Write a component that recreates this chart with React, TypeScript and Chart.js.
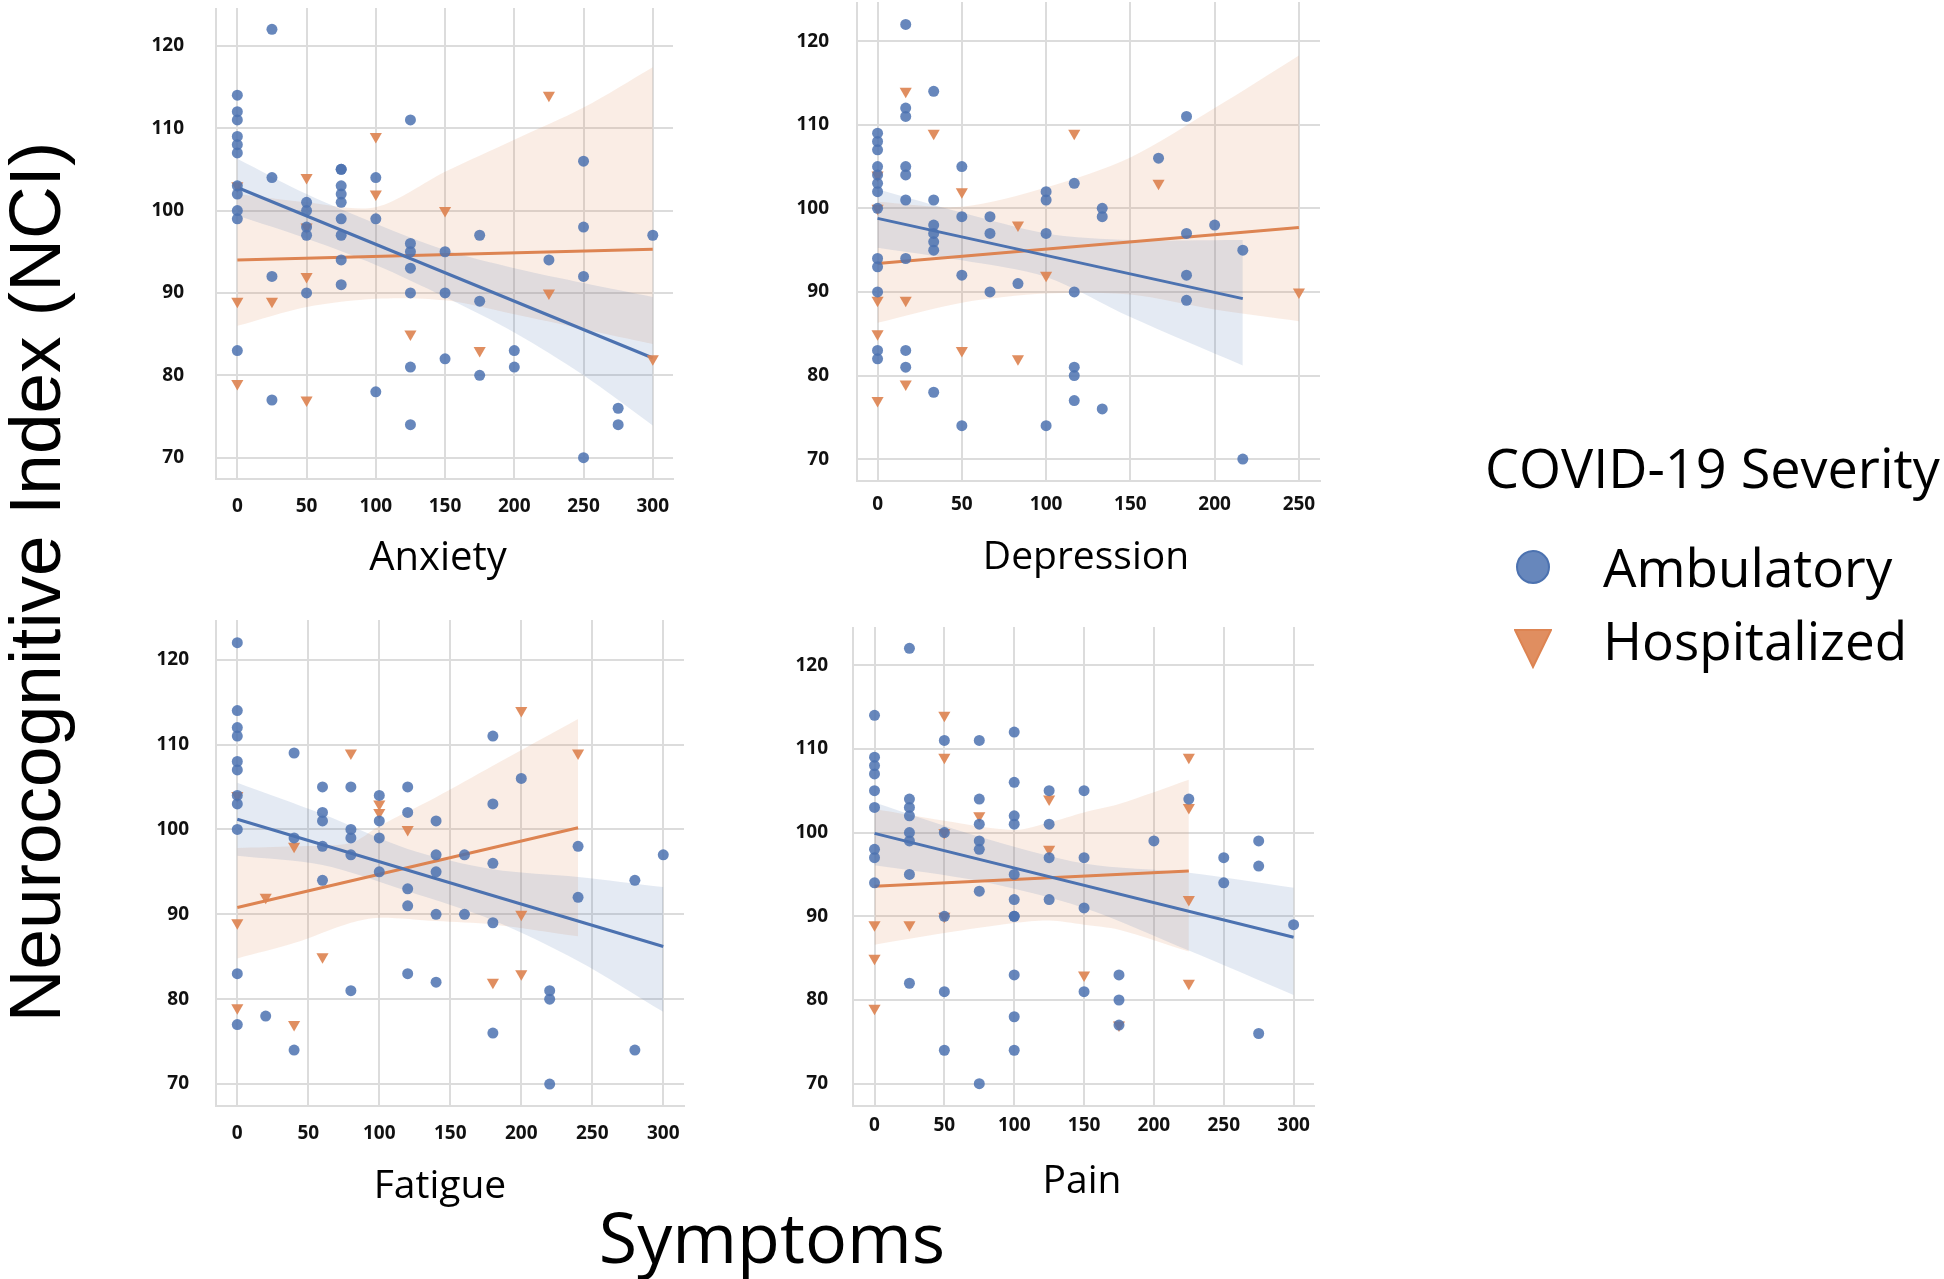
import React, { useEffect, useRef } from "react";
import { Chart, registerables } from "chart.js";

Chart.register(...registerables);

// ---------- colours ----------
const BLUE = "#4C72B0";
const ORANGE = "#DD8452";
const BLUE_PT = "rgba(76,114,176,0.85)";
const ORANGE_PT = "rgba(221,132,82,0.92)";
const BLUE_BAND = "rgba(76,114,176,0.15)";
const ORANGE_BAND = "rgba(221,132,82,0.15)";
const GRID = "#dcdcdc";

// ---------- Anxiety ----------
const anxietyAmbX = [0, 0, 0, 0, 0, 0, 0, 0, 0, 0, 0, 25, 25, 25, 25, 50, 50, 50, 50, 50, 75, 75, 75, 75, 75, 75, 75, 75, 75, 100, 100, 100, 125, 125, 125, 125, 125, 125, 125, 150, 150, 150, 175, 175, 175, 200, 200, 225, 250, 250, 250, 250, 275, 275, 300];
const anxietyAmbY = [114, 112, 111, 109, 108, 107, 103, 102, 100, 99, 83, 122, 104, 92, 77, 101, 100, 98, 97, 90, 105, 105, 103, 102, 101, 99, 97, 94, 91, 104, 99, 78, 111, 96, 95, 93, 90, 81, 74, 95, 90, 82, 97, 89, 80, 83, 81, 94, 106, 98, 92, 70, 76, 74, 97];
const anxietyHospX = [0, 0, 0, 25, 50, 50, 50, 50, 100, 100, 125, 150, 175, 225, 225, 300];
const anxietyHospY = [103, 89, 79, 89, 104, 98, 92, 77, 109, 102, 85, 100, 83, 114, 90, 82];
const anxietyAmbLineX = [0, 300];
const anxietyAmbLineY = [102.8, 82.1];
const anxietyHospLineX = [0, 300];
const anxietyHospLineY = [94.0, 95.3];
const anxietyAmbBandX = [0, 50, 100, 150, 200, 250, 300];
const anxietyAmbBandUp = [106.3, 102.0, 98.4, 95.2, 93.0, 91.2, 89.5];
const anxietyAmbBandLo = [99.4, 96.6, 93.4, 89.5, 85.2, 80.0, 73.9];
const anxietyHospBandX = [0, 50, 100, 150, 200, 250, 300];
const anxietyHospBandUp = [102.0, 101.0, 100.4, 104.7, 108.6, 112.5, 117.4];
const anxietyHospBandLo = [86.0, 88.3, 89.3, 89.1, 87.4, 85.6, 83.8];

// ---------- Depression ----------
const depressionAmbX = [0, 0, 0, 0, 0, 0, 0, 0, 0, 0, 0, 0, 0, 16.7, 16.7, 16.7, 16.7, 16.7, 16.7, 16.7, 16.7, 16.7, 33.3, 33.3, 33.3, 33.3, 33.3, 33.3, 33.3, 50, 50, 50, 50, 66.7, 66.7, 66.7, 83.3, 100, 100, 100, 100, 116.7, 116.7, 116.7, 116.7, 116.7, 133.3, 133.3, 133.3, 166.7, 183.3, 183.3, 183.3, 183.3, 200, 216.7, 216.7];
const depressionAmbY = [109, 108, 107, 105, 104, 103, 102, 100, 94, 93, 90, 83, 82, 122, 112, 111, 105, 104, 101, 94, 83, 81, 114, 101, 98, 97, 96, 95, 78, 105, 99, 92, 74, 99, 97, 90, 91, 102, 101, 97, 74, 103, 90, 81, 80, 77, 100, 99, 76, 106, 111, 97, 92, 89, 98, 95, 70];
const depressionHospX = [0, 0, 0, 0, 0, 16.7, 16.7, 16.7, 33.3, 50, 50, 83.3, 83.3, 100, 116.7, 166.7, 250];
const depressionHospY = [104, 100, 89, 85, 77, 114, 89, 79, 109, 102, 83, 98, 82, 92, 109, 103, 90];
const depressionAmbLineX = [0, 216.7];
const depressionAmbLineY = [98.8, 89.2];
const depressionHospLineX = [0, 250];
const depressionHospLineY = [93.4, 97.7];
const depressionAmbBandX = [0, 50, 100, 150, 216.7];
const depressionAmbBandUp = [102.3, 99.5, 97.0, 96.2, 96.2];
const depressionAmbBandLo = [95.3, 93.8, 91.8, 87.0, 81.2];
const depressionHospBandX = [0, 50, 100, 150, 200, 250];
const depressionHospBandUp = [100.8, 100.2, 102.5, 106.1, 112.0, 118.3];
const depressionHospBandLo = [86.3, 88.7, 89.8, 89.7, 87.9, 86.5];

// ---------- Fatigue ----------
const fatigueAmbX = [0, 0, 0, 0, 0, 0, 0, 0, 0, 0, 0, 20, 40, 40, 40, 60, 60, 60, 60, 60, 80, 80, 80, 80, 80, 100, 100, 100, 100, 120, 120, 120, 120, 120, 140, 140, 140, 140, 140, 160, 160, 180, 180, 180, 180, 180, 200, 220, 220, 220, 240, 240, 280, 280, 300];
const fatigueAmbY = [122, 114, 112, 111, 108, 107, 104, 103, 100, 83, 77, 78, 109, 99, 74, 105, 102, 101, 98, 94, 105, 100, 99, 97, 81, 104, 101, 99, 95, 105, 102, 93, 91, 83, 101, 97, 95, 90, 82, 97, 90, 111, 103, 96, 89, 76, 106, 81, 80, 70, 98, 92, 94, 74, 97];
const fatigueHospX = [0, 0, 0, 20, 40, 40, 60, 80, 100, 100, 120, 180, 200, 200, 200, 240];
const fatigueHospY = [104, 89, 79, 92, 98, 77, 85, 109, 103, 102, 100, 82, 114, 90, 83, 109];
const fatigueAmbLineX = [0, 300];
const fatigueAmbLineY = [101.2, 86.2];
const fatigueHospLineX = [0, 240];
const fatigueHospLineY = [90.8, 100.2];
const fatigueAmbBandX = [0, 60, 120, 180, 240, 300];
const fatigueAmbBandUp = [105.5, 101.8, 97.7, 95.3, 94.4, 93.2];
const fatigueAmbBandLo = [96.9, 95.8, 92.7, 89.3, 84.5, 78.5];
const fatigueHospBandX = [0, 40, 80, 100, 140, 180, 240];
const fatigueHospBandUp = [97.8, 98.0, 98.4, 100.4, 103.8, 107.5, 113.0];
const fatigueHospBandLo = [84.8, 86.6, 89.0, 89.6, 89.2, 88.8, 87.4];

// ---------- Pain ----------
const painAmbX = [0, 0, 0, 0, 0, 0, 0, 0, 0, 25, 25, 25, 25, 25, 25, 25, 25, 50, 50, 50, 50, 50, 75, 75, 75, 75, 75, 75, 75, 100, 100, 100, 100, 100, 100, 100, 100, 100, 100, 100, 125, 125, 125, 125, 150, 150, 150, 150, 175, 175, 175, 200, 225, 250, 250, 275, 275, 275, 300];
const painAmbY = [114, 109, 108, 107, 105, 103, 98, 97, 94, 122, 104, 103, 102, 100, 99, 95, 82, 111, 100, 90, 81, 74, 111, 104, 101, 99, 98, 93, 70, 112, 106, 102, 101, 95, 92, 90, 90, 83, 78, 74, 105, 101, 97, 92, 105, 97, 91, 81, 83, 80, 77, 99, 104, 97, 94, 99, 96, 76, 89];
const painHospX = [0, 0, 0, 25, 50, 50, 50, 50, 75, 125, 125, 150, 175, 225, 225, 225, 225];
const painHospY = [89, 85, 79, 89, 114, 109, 100, 90, 102, 104, 98, 83, 77, 109, 103, 92, 82];
const painAmbLineX = [0, 300];
const painAmbLineY = [99.9, 87.5];
const painHospLineX = [0, 225];
const painHospLineY = [93.6, 95.4];
const painAmbBandX = [0, 75, 150, 225, 300];
const painAmbBandUp = [103.6, 99.5, 96.3, 95.2, 93.4];
const painAmbBandLo = [96.1, 94.2, 91.0, 85.9, 80.6];
const painHospBandX = [0, 50, 100, 125, 150, 175, 225];
const painHospBandUp = [102.8, 101.4, 100.3, 101.2, 102.4, 103.4, 106.3];
const painHospBandLo = [86.6, 88.0, 89.2, 89.5, 89.0, 88.4, 85.8];

// ---------- labels ----------
const panelNames = ["Anxiety", "Depression", "Fatigue", "Pain"];
const seriesNames = ["Ambulatory", "Hospitalized"];
const legendTitle = "COVID-19 Severity";
const yTitle = "Neurocognitive Index (NCI)";
const xTitle = "Symptoms";

type Box = { l: number; t: number; r: number; b: number };
type PanelSpec = {
  name: string;
  ambX: number[]; ambY: number[]; hospX: number[]; hospY: number[];
  ambLineX: number[]; ambLineY: number[]; hospLineX: number[]; hospLineY: number[];
  ambBandX: number[]; ambBandUp: number[]; ambBandLo: number[];
  hospBandX: number[]; hospBandUp: number[]; hospBandLo: number[];
  xMin: number; xMax: number; yMin: number; yMax: number;
  box: Box; yPad: number; xPad: number;
  title: { cx: number; top: number; size: number };
};

const panels: PanelSpec[] = [
  {
    name: panelNames[0],
    ambX: anxietyAmbX, ambY: anxietyAmbY, hospX: anxietyHospX, hospY: anxietyHospY,
    ambLineX: anxietyAmbLineX, ambLineY: anxietyAmbLineY, hospLineX: anxietyHospLineX, hospLineY: anxietyHospLineY,
    ambBandX: anxietyAmbBandX, ambBandUp: anxietyAmbBandUp, ambBandLo: anxietyAmbBandLo,
    hospBandX: anxietyHospBandX, hospBandUp: anxietyHospBandUp, hospBandLo: anxietyHospBandLo,
    xMin: -15.4, xMax: 314.6, yMin: 67.41, yMax: 124.59,
    box: { l: 216, t: 8, r: 673, b: 479 }, yPad: 32, xPad: 16,
    title: { cx: 438, top: 535, size: 40 },
  },
  {
    name: panelNames[1],
    ambX: depressionAmbX, ambY: depressionAmbY, hospX: depressionHospX, hospY: depressionHospY,
    ambLineX: depressionAmbLineX, ambLineY: depressionAmbLineY, hospLineX: depressionHospLineX, hospLineY: depressionHospLineY,
    ambBandX: depressionAmbBandX, ambBandUp: depressionAmbBandUp, ambBandLo: depressionAmbBandLo,
    hospBandX: depressionHospBandX, hospBandUp: depressionHospBandUp, hospBandLo: depressionHospBandLo,
    xMin: -12.2, xMax: 262.5, yMin: 67.38, yMax: 124.69,
    box: { l: 857, t: 2, r: 1320, b: 481 }, yPad: 28, xPad: 12,
    title: { cx: 1086, top: 534, size: 39 },
  },
  {
    name: panelNames[2],
    ambX: fatigueAmbX, ambY: fatigueAmbY, hospX: fatigueHospX, hospY: fatigueHospY,
    ambLineX: fatigueAmbLineX, ambLineY: fatigueAmbLineY, hospLineX: fatigueHospLineX, hospLineY: fatigueHospLineY,
    ambBandX: fatigueAmbBandX, ambBandUp: fatigueAmbBandUp, ambBandLo: fatigueAmbBandLo,
    hospBandX: fatigueHospBandX, hospBandUp: fatigueHospBandUp, hospBandLo: fatigueHospBandLo,
    xMin: -15.0, xMax: 314.6, yMin: 67.41, yMax: 124.67,
    box: { l: 216, t: 620, r: 684, b: 1106 }, yPad: 27, xPad: 16,
    title: { cx: 440, top: 1163, size: 39 },
  },
  {
    name: panelNames[3],
    ambX: painAmbX, ambY: painAmbY, hospX: painHospX, hospY: painHospY,
    ambLineX: painAmbLineX, ambLineY: painAmbLineY, hospLineX: painHospLineX, hospLineY: painHospLineY,
    ambBandX: painAmbBandX, ambBandUp: painAmbBandUp, ambBandLo: painAmbBandLo,
    hospBandX: painHospBandX, hospBandUp: painHospBandUp, hospBandLo: painHospBandLo,
    xMin: -15.4, xMax: 314.6, yMin: 67.34, yMax: 124.55,
    box: { l: 853, t: 627, r: 1314, b: 1106 }, yPad: 25, xPad: 8,
    title: { cx: 1082, top: 1158, size: 39 },
  },
];

const YW = 110;
const XH = 60;
const RP = 30;
const TICK_FONT = { family: "'Open Sans', sans-serif", size: 19, weight: "bold" as const };

function pts(xs: number[], ys: number[]) {
  return xs.map((x, i) => ({ x, y: ys[i] }));
}

function ChartPanel({ p }: { p: PanelSpec }) {
  const ref = useRef<HTMLCanvasElement>(null);
  const w = p.box.r - p.box.l + YW + RP;
  const h = p.box.b - p.box.t + XH;
  useEffect(() => {
    if (!ref.current) return;
    const clear = "rgba(0,0,0,0)";
    const chart = new Chart(ref.current, {
      type: "scatter",
      data: {
        datasets: [
          {
            type: "scatter", label: seriesNames[0], data: pts(p.ambX, p.ambY),
            pointStyle: "circle", pointRadius: 5.5, pointHoverRadius: 5.5,
            backgroundColor: BLUE_PT, borderColor: clear, borderWidth: 0, order: 0,
          } as any,
          {
            type: "scatter", label: seriesNames[1], data: pts(p.hospX, p.hospY),
            pointStyle: "triangle", pointRotation: 180, pointRadius: 7, pointHoverRadius: 7,
            backgroundColor: ORANGE_PT, borderColor: clear, borderWidth: 0, order: 0,
          } as any,
          {
            type: "line", data: pts(p.ambLineX, p.ambLineY), borderColor: BLUE, borderWidth: 3,
            pointRadius: 0, fill: false, showLine: true, order: 1,
          } as any,
          {
            type: "line", data: pts(p.hospLineX, p.hospLineY), borderColor: ORANGE, borderWidth: 3,
            pointRadius: 0, fill: false, showLine: true, order: 1,
          } as any,
          {
            type: "line", data: pts(p.ambBandX, p.ambBandUp), borderColor: clear, borderWidth: 1,
            pointRadius: 0, fill: "+1", backgroundColor: BLUE_BAND, showLine: true, tension: 0.3, order: 2,
          } as any,
          {
            type: "line", data: pts(p.ambBandX, p.ambBandLo), borderColor: clear, borderWidth: 1,
            pointRadius: 0, fill: false, showLine: true, tension: 0.3, order: 2,
          } as any,
          {
            type: "line", data: pts(p.hospBandX, p.hospBandUp), borderColor: clear, borderWidth: 1,
            pointRadius: 0, fill: "+1", backgroundColor: ORANGE_BAND, showLine: true, tension: 0.3, order: 3,
          } as any,
          {
            type: "line", data: pts(p.hospBandX, p.hospBandLo), borderColor: clear, borderWidth: 1,
            pointRadius: 0, fill: false, showLine: true, tension: 0.3, order: 3,
          } as any,
        ],
      },
      options: {
        responsive: false,
        maintainAspectRatio: false,
        animation: false,
        events: [],
        layout: { padding: { left: 0, top: 0, right: RP, bottom: 0 }, autoPadding: false } as any,
        plugins: { legend: { display: false }, tooltip: { enabled: false } },
        scales: {
          x: {
            type: "linear", position: "bottom", min: p.xMin, max: p.xMax,
            grid: { color: GRID, lineWidth: 2, drawTicks: false },
            border: { color: GRID, width: 2 },
            ticks: {
              stepSize: 50, includeBounds: false, autoSkip: false, maxRotation: 0, minRotation: 0,
              padding: p.xPad, color: "#111", font: TICK_FONT,
            },
            afterFit: (s: any) => { s.height = XH; s.paddingLeft = 0; s.paddingRight = 0; },
          },
          y: {
            type: "linear", position: "left", min: p.yMin, max: p.yMax,
            grid: { color: GRID, lineWidth: 2, drawTicks: false },
            border: { color: GRID, width: 2 },
            ticks: {
              stepSize: 10, includeBounds: false, autoSkip: false,
              padding: p.yPad, color: "#111", font: TICK_FONT,
            },
            afterFit: (s: any) => { s.width = YW; s.paddingTop = 0; s.paddingBottom = 0; },
          },
        } as any,
      },
    });
    return () => chart.destroy();
  }, [p]);
  return (
    <canvas
      ref={ref}
      width={w}
      height={h}
      style={{ position: "absolute", left: p.box.l - YW, top: p.box.t, width: w, height: h }}
    />
  );
}

const textBase: React.CSSProperties = {
  position: "absolute",
  fontFamily: "'Open Sans', sans-serif",
  color: "#000",
  lineHeight: 1,
  whiteSpace: "nowrap",
};

export default function App() {
  return (
    <div
      style={{
        position: "absolute", left: 0, top: 0, width: 1944, height: 1279,
        overflow: "hidden", background: "#fff",
      }}
    >
      {panels.map((p) => (
        <ChartPanel key={p.name} p={p} />
      ))}
      {panels.map((p) => (
        <div
          key={p.name + "-t"}
          style={{
            ...textBase, left: p.title.cx - 200, width: 400, textAlign: "center",
            top: p.title.top, fontSize: p.title.size, height: p.title.size,
          }}
        >
          {p.name}
        </div>
      ))}
      <div
        style={{
          ...textBase, left: 772 - 300, width: 600, textAlign: "center",
          top: 1201, fontSize: 70, height: 70,
        }}
      >
        {xTitle}
      </div>
      <div
        style={{
          ...textBase, fontFamily: "'Liberation Sans', Arial, sans-serif",
          left: 35 - 500, top: 582 - 36, width: 1000, height: 72, fontSize: 73, lineHeight: "72px",
          textAlign: "center", transform: "rotate(-90deg)", transformOrigin: "50% 50%",
        }}
      >
        {yTitle}
      </div>
      <div style={{ ...textBase, left: 1485, top: 440, fontSize: 54, height: 54 }}>{legendTitle}</div>
      <div
        style={{
          position: "absolute", left: 1516, top: 550, width: 34, height: 34, borderRadius: "50%",
          background: BLUE_PT, border: "2px solid " + BLUE, boxSizing: "border-box",
        }}
      />
      <svg style={{ position: "absolute", left: 1514, top: 629 }} width={38} height={40}>
        <polygon points="1,1 37,1 19,38" fill={ORANGE_PT} stroke={ORANGE} strokeWidth={2} />
      </svg>
      <div style={{ ...textBase, left: 1603, top: 540, fontSize: 53, height: 53 }}>{seriesNames[0]}</div>
      <div style={{ ...textBase, left: 1603, top: 613, fontSize: 53, height: 53 }}>{seriesNames[1]}</div>
    </div>
  );
}
